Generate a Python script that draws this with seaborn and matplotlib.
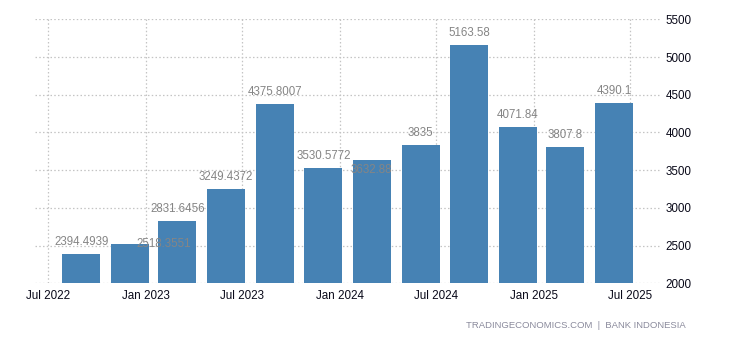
import matplotlib
matplotlib.use("Agg")
import matplotlib.pyplot as plt
import matplotlib.dates as mdates
import pandas as pd
import seaborn as sns

# Quarterly figures (Bank Indonesia)
quarters = ["2022-09-01", "2022-12-01", "2023-03-01", "2023-06-01",
            "2023-09-01", "2023-12-01", "2024-03-01", "2024-06-01",
            "2024-09-01", "2024-12-01", "2025-03-01", "2025-06-01"]
values = [2394.4939, 2518.3551, 2831.6456, 3249.4372,
          4375.8007, 3530.5772, 3632.88, 3835,
          5163.58, 4071.84, 3807.8, 4390.1]
y_ticks = [2000, 2500, 3000, 3500, 4000, 4500, 5000, 5500]

# label placement tweaks (pixels) for crowded labels
label_dx = [0, 34, 0, 0, 0, 0, 0, 0, 0, 0, 0, 0]
label_dy = [12, 0, 12, 12, 12, 12, -10, 12, 12, 12, 12, 12]

sns.set_theme(style="white")
plt.rcParams["font.family"] = ["Liberation Sans", "DejaVu Sans"]

fig = plt.figure(figsize=(7.3, 3.4), dpi=100)
ax = fig.add_axes([35 / 730, 1 - 283.3 / 340, (660 - 35) / 730, (283.3 - 19.3) / 340])

xnum = mdates.date2num(pd.to_datetime(quarters))
df = pd.DataFrame({"x": xnum, "value": values})

sns.barplot(data=df, x="x", y="value", native_scale=True, width=0.795,
            color="#4682b4", saturation=1, linewidth=0, ax=ax, zorder=2)

ax.set_xlim(mdates.date2num(pd.Timestamp("2022-06-06")),
            mdates.date2num(pd.Timestamp("2025-08-26")))
ax.set_ylim(y_ticks[0], y_ticks[-1])
ax.set_yticks(y_ticks)
ax.xaxis.set_major_locator(mdates.MonthLocator(bymonth=[1, 7]))
ax.xaxis.set_major_formatter(mdates.DateFormatter("%b %Y"))

ax.yaxis.tick_right()
ax.tick_params(axis="y", length=0, pad=4, labelsize=8.4, labelcolor="#0a0a1a")
ax.tick_params(axis="x", length=0, pad=5, labelsize=8.4, labelcolor="#0a0a1a")
for lbl in ax.get_yticklabels():
    lbl.set_horizontalalignment("left")

ax.grid(True, axis="both", color="#c4c4c4", linestyle=(0, (1.2, 1.8)), linewidth=0.9, zorder=0)
ax.set_axisbelow(True)
for s in ax.spines.values():
    s.set_visible(False)
ax.set_xlabel("")
ax.set_ylabel("")

for x, v, dx, dy in zip(xnum, values, label_dx, label_dy):
    txt = format(v, ".4f").rstrip("0").rstrip(".")
    ax.annotate(txt, (x, v), xytext=(dx, dy), textcoords="offset pixels",
                ha="center", va="center", fontsize=8.3, color="#858585", zorder=3)

fig.text(686 / 730, 1 - 325 / 340, "TRADINGECONOMICS.COM  |  BANK INDONESIA",
         ha="right", va="center", fontsize=6.8, color="#8a8a9c")

fig.savefig("out.png", dpi=100)
